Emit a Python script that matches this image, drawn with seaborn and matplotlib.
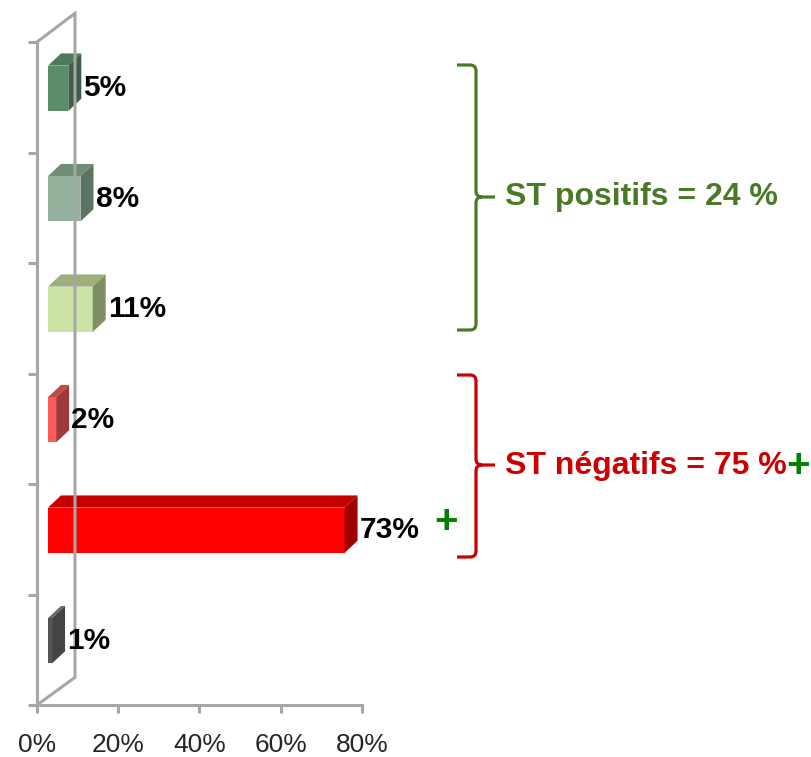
"""Satisfaction bar chart (3D-look horizontal bars) with grouped totals."""

import matplotlib

matplotlib.use("Agg")
import matplotlib.pyplot as plt
import matplotlib.transforms as mtransforms
from matplotlib.patches import Polygon, PathPatch
from matplotlib.path import Path
import seaborn as sns


CATEGORIES = ["cat1", "cat2", "cat3", "cat4", "cat5", "cat6"]
VALUES = [5, 8, 11, 2, 73, 1]
LABELS = ["5%", "8%", "11%", "2%", "73%", "1%"]
FRONT = ["#5b8c69", "#93b39c", "#cde3a6", "#ff5a5a", "#ff0000", "#555555"]
TOP = ["#4d7a5a", "#708d78", "#9db07c", "#c44a4a", "#c40000", "#6a6a6a"]
SIDE = ["#3d5e47", "#5b7562", "#7f8f63", "#a03a3a", "#a00000", "#444444"]
XTICKS = [0, 20, 40, 60, 80]

GREEN_TEXT = "ST positifs = 24 %"
RED_TEXT = "ST négatifs = 75 %"

W, H = 812, 757
GRAY = "#a6a6a6"


def fx(px):
    return px / W


def fy(py):
    return 1 - py / H


def brace(fig, x, y0, y1, ytip, color):
    # curly brace opening to the left, tip pointing right (pixel coords)
    hook, r = 19, 6
    xl = x - hook
    tip = x + 19
    verts = [
        (xl, y0), (x - r, y0), (x, y0), (x, y0 + r),
        (x, ytip - r), (x, ytip), (x + r, ytip),
        (tip, ytip),
        (x + r, ytip), (x, ytip), (x, ytip + r),
        (x, y1 - r), (x, y1), (x - r, y1),
        (xl, y1),
    ]
    codes = [Path.MOVETO, Path.LINETO, Path.CURVE3, Path.CURVE3,
             Path.LINETO, Path.CURVE3, Path.CURVE3,
             Path.LINETO,
             Path.MOVETO, Path.CURVE3, Path.CURVE3,
             Path.LINETO, Path.CURVE3, Path.CURVE3,
             Path.LINETO]
    verts = [(fx(a), fy(b)) for a, b in verts]
    patch = PathPatch(Path(verts, codes), facecolor="none", edgecolor=color,
                      lw=2.3, transform=fig.transFigure, capstyle="butt")
    fig.add_artist(patch)


def main() -> None:
    sns.set_style("white")
    plt.rcParams["font.family"] = ["Liberation Sans", "DejaVu Sans"]

    fig = plt.figure(figsize=(W / 100, H / 100), dpi=100)
    ax = fig.add_axes([fx(37), fy(705), (362 - 37) / W, (705 - 42) / H])

    sns.barplot(
        x=VALUES,
        y=CATEGORIES,
        hue=CATEGORIES,
        palette=FRONT,
        saturation=1,
        orient="h",
        width=0.41,
        linewidth=0,
        legend=False,
        ax=ax,
    )
    ax.set_xlim(0, 80)
    ax.set_ylim(5.5, -0.5)

    # 3D projection: bars pushed into the depth of the chart
    shift = mtransforms.ScaledTranslation(0.11, 0.09, fig.dpi_scale_trans)
    tr = ax.transData + shift
    ddx, ddy = 3.2, 0.11  # depth in data units

    for i, p in enumerate(ax.patches[: len(VALUES)]):
        p.set_transform(tr)
        x0, y0 = p.get_x(), p.get_y()
        x1, y1 = x0 + p.get_width(), y0 + p.get_height()
        top = Polygon([(x0, y0), (x1, y0), (x1 + ddx, y0 - ddy), (x0 + ddx, y0 - ddy)],
                      closed=True, facecolor=TOP[i], edgecolor="none", transform=tr)
        side = Polygon([(x1, y0), (x1 + ddx, y0 - ddy), (x1 + ddx, y1 - ddy), (x1, y1)],
                       closed=True, facecolor=SIDE[i], edgecolor="none", transform=tr)
        ax.add_patch(top)
        ax.add_patch(side)
        ax.text(x1 + ddx + 0.5, (y0 + y1) / 2, LABELS[i], transform=tr,
                ha="left", va="center", fontsize=21.5, fontweight="bold",
                color="black", clip_on=False)

    # side wall of the 3D frame
    wall_x = 9.35
    ax.plot([0, wall_x, wall_x, 0], [-0.5, -0.76, 5.25, 5.5], color=GRAY,
            lw=2.2, clip_on=False, solid_joinstyle="miter")

    for side_name in ["top", "right"]:
        ax.spines[side_name].set_visible(False)
    for side_name in ["left", "bottom"]:
        ax.spines[side_name].set_color(GRAY)
        ax.spines[side_name].set_linewidth(2.2)

    ax.set_yticks([k - 0.5 for k in range(len(CATEGORIES) + 1)])
    ax.set_yticklabels([])
    ax.set_xticks(XTICKS)
    ax.set_xticklabels([f"{t}%" for t in XTICKS])
    ax.tick_params(axis="y", length=6.5, width=2.2, color=GRAY, left=True)
    ax.tick_params(axis="x", length=6, width=2.2, color=GRAY, labelsize=19,
                   pad=14, bottom=True)
    ax.set_xlabel("")
    ax.set_ylabel("")

    # group braces and totals
    brace(fig, 476, 65, 330, 197, "#4a7a28")
    brace(fig, 476, 375, 557, 465, "#cc0000")
    fig.text(fx(505), fy(197), GREEN_TEXT, ha="left", va="center",
             fontsize=23, fontweight="bold", color="#4a7a28")
    red = fig.text(fx(505), fy(466), RED_TEXT, ha="left", va="center",
                   fontsize=23, fontweight="bold", color="#cc0000")
    ax.annotate("+", xy=(1, 0.5), xycoords=red, ha="left", va="center",
                fontsize=29, fontweight="bold", color="#008000")
    fig.text(fx(446), fy(522), "+", ha="center", va="center",
             fontsize=29, fontweight="bold", color="#008000")

    fig.savefig("out.png", dpi=100)
    plt.close(fig)


if __name__ == "__main__":
    main()
